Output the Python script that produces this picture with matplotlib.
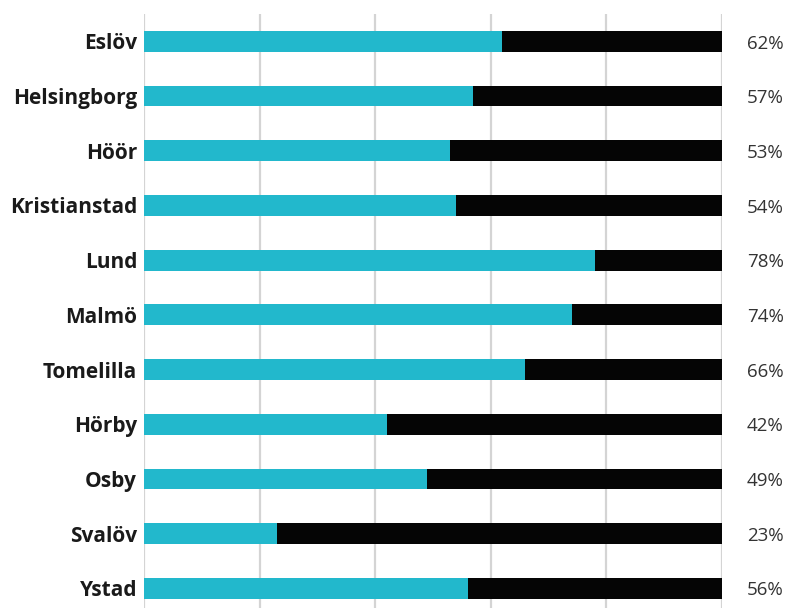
import matplotlib
matplotlib.use("Agg")
import matplotlib.pyplot as plt

categories = ["Eslöv", "Helsingborg", "Höör", "Kristianstad", "Lund", "Malmö",
              "Tomelilla", "Hörby", "Osby", "Svalöv", "Ystad"]
values = [62, 57, 53, 54, 78, 74, 66, 42, 49, 23, 56]
total = 100

fig = plt.figure(figsize=(7.87, 6.08), dpi=100)
ax = fig.add_axes([144/787, 0.0, 578/787, 1 - 14/608])

ypos = list(range(len(categories)))
rest = [total - v for v in values]
ax.barh(ypos, values, height=0.38, color="#22B8CC", zorder=3)
ax.barh(ypos, rest, left=values, height=0.38, color="#050505", zorder=3)

ax.set_xlim(0, 100)
ax.set_ylim(10.36, -0.5)
ax.set_xticks([0, 20, 40, 60, 80, 100])
ax.xaxis.grid(True, color="#d4d4d4", linewidth=1.6, zorder=0)
ax.tick_params(axis="x", length=0, labelbottom=False)
ax.tick_params(axis="y", length=0, pad=5)
ax.set_yticks(ypos)
ax.set_yticklabels(categories, fontsize=15, fontweight="bold",
                   color="#1a1a1a", family="Open Sans")
for s in ax.spines.values():
    s.set_visible(False)

for y, v in zip(ypos, values):
    ax.text(1.107, y + 0.04, f"{v}%", transform=ax.get_yaxis_transform(),
            ha="right", va="center", fontsize=13.5, color="#333333",
            family="Open Sans")

fig.savefig("out.png", dpi=100)
